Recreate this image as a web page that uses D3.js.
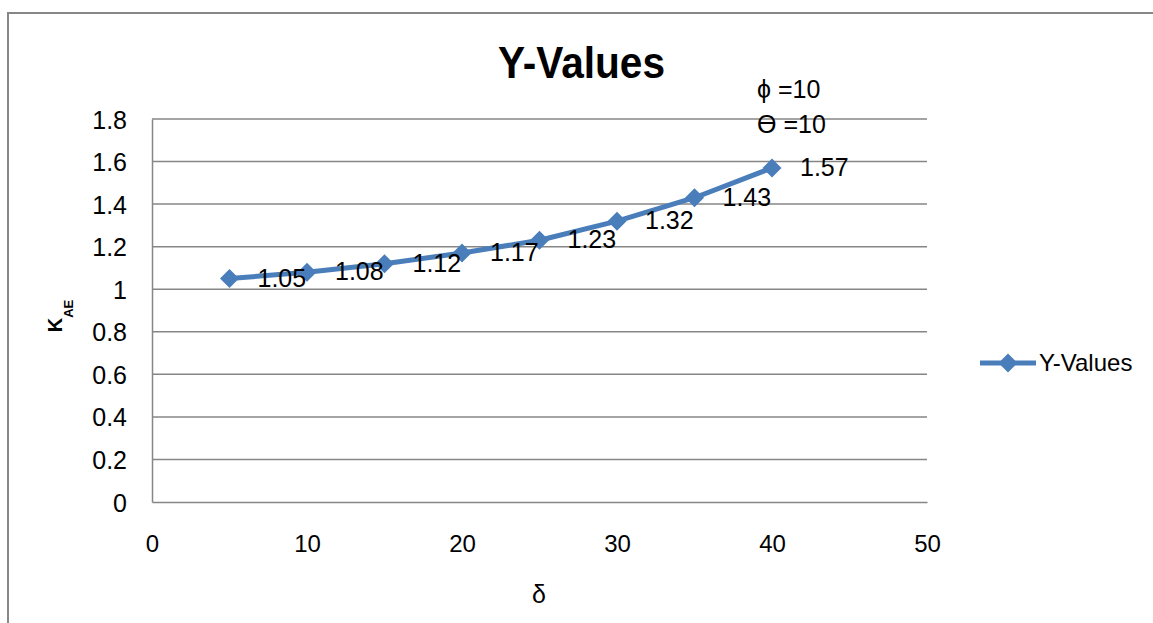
<!DOCTYPE html>
<html>
<head>
<meta charset="utf-8">
<script src="https://cdn.jsdelivr.net/npm/d3@7"></script>
<style>
  body { margin: 0; background: #fff; }
  text { font-family: "Liberation Sans", Arial, sans-serif; fill: #000; }
</style>
</head>
<body>
<svg width="1153" height="623"></svg>
<script>
// data
const delta = [5, 10, 15, 20, 25, 30, 35, 40];
const kae = [1.05, 1.08, 1.12, 1.17, 1.23, 1.32, 1.43, 1.57];
const xTicks = [0, 10, 20, 30, 40, 50];
const yTicks = [0, 0.2, 0.4, 0.6, 0.8, 1, 1.2, 1.4, 1.6, 1.8];

const svg = d3.select("svg");
const fam = "Liberation Sans, Arial, sans-serif";
const blue = "#4a7ebb";

const area = { left: 152, right: 927, top: 119, bottom: 502 };

// chart frame
svg.append("path")
   .attr("d", "M8,623 V13 H1153")
   .attr("fill", "none")
   .attr("stroke", "#878787")
   .attr("stroke-width", 2);

const scX = d3.scaleLinear().domain([0, 50]).range([area.left, area.right]);
const scY = d3.scaleLinear().domain([0, 1.8]).range([area.bottom, area.top]);

// gridlines
svg.append("g")
   .selectAll("line")
   .data(yTicks.slice(1))
   .enter()
   .append("line")
   .attr("x1", area.left).attr("x2", area.right)
   .attr("y1", d => scY(d)).attr("y2", d => scY(d))
   .attr("stroke", "#868686").attr("stroke-width", 1.5);

// axes
const axisY = d3.axisLeft(scY).tickValues(yTicks).tickSize(0).tickPadding(25)
    .tickFormat(d => d3.format("")(d));
const gY = svg.append("g").attr("transform", `translate(${area.left},0)`).call(axisY);
gY.select(".domain").attr("stroke", "#868686").attr("stroke-width", 1.5);
gY.selectAll("text").style("font-size", "25px").attr("font-family", fam).attr("dy", "0.36em");

const axisX = d3.axisBottom(scX).tickValues(xTicks).tickSize(0).tickPadding(0);
const gX = svg.append("g").attr("transform", `translate(0,${area.bottom})`).call(axisX);
gX.select(".domain").attr("stroke", "#868686").attr("stroke-width", 1.5);
gX.selectAll("text").style("font-size", "24px").attr("font-family", fam)
  .attr("y", 50).attr("dy", 0);

// series line
const line = d3.line().x((d, i) => scX(delta[i])).y(d => scY(d));
svg.append("path")
   .datum(kae)
   .attr("d", line)
   .attr("fill", "none")
   .attr("stroke", blue)
   .attr("stroke-width", 5)
   .attr("stroke-linejoin", "round");

const diamond = d3.symbol().type(d3.symbolDiamond2).size(230);
svg.append("g")
   .selectAll("path")
   .data(kae)
   .enter()
   .append("path")
   .attr("d", diamond)
   .attr("transform", (d, i) => `translate(${scX(delta[i])},${scY(d)})`)
   .attr("fill", blue);

// data labels
svg.append("g")
   .selectAll("text")
   .data(kae)
   .enter()
   .append("text")
   .attr("x", (d, i) => scX(delta[i]) + 28)
   .attr("y", d => scY(d) + 8)
   .style("font-size", "25px")
   .text(d => d.toFixed(2));

// title
svg.append("text")
   .attr("x", 498).attr("y", 78)
   .attr("textLength", 167).attr("lengthAdjust", "spacingAndGlyphs")
   .style("font-size", "45px").style("font-weight", "bold")
   .text("Y-Values");

// annotations
svg.append("text").attr("x", 757).attr("y", 98).style("font-size", "25px").text("ϕ =10");
svg.append("text").attr("x", 757).attr("y", 133).style("font-size", "25px").text("ϴ =10");

// axis titles
svg.append("text")
   .attr("x", 539).attr("y", 603)
   .attr("text-anchor", "middle")
   .style("font-size", "25px")
   .text("δ");

const yt = svg.append("text")
   .attr("transform", "translate(62,316) rotate(-90)")
   .attr("text-anchor", "middle")
   .style("font-size", "20px").style("font-weight", "bold");
yt.append("tspan").text("K");
yt.append("tspan").attr("dy", 11).style("font-size", "13px").text("AE");

// legend
const lg = svg.append("g").attr("transform", "translate(980,363)");
lg.append("line").attr("x1", 0).attr("x2", 56).attr("y1", 0).attr("y2", 0)
  .attr("stroke", blue).attr("stroke-width", 5);
lg.append("path").attr("d", diamond).attr("transform", "translate(28,0)").attr("fill", blue);
lg.append("text").attr("x", 59).attr("y", 8).style("font-size", "24px").text("Y-Values");
</script>
</body>
</html>
